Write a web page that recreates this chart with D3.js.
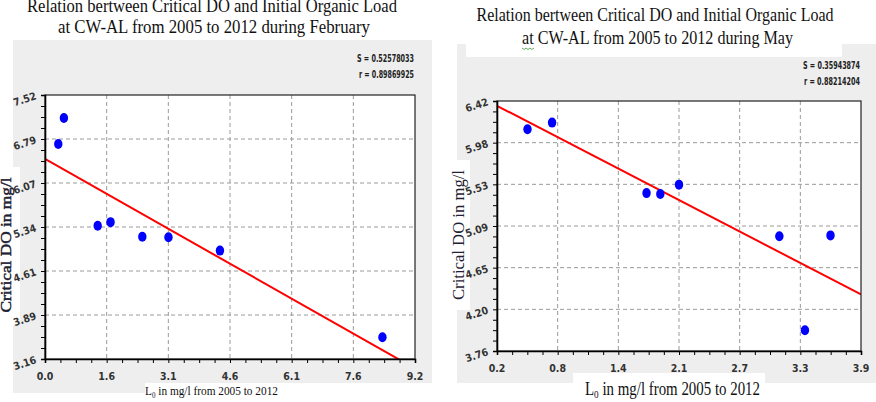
<!DOCTYPE html>
<html>
<head>
<meta charset="utf-8">
<script src="https://cdn.jsdelivr.net/npm/d3@7"></script>
<style>
  html, body { margin: 0; padding: 0; background: #fff; }
  svg { display: block; }
  .serif { font-family: "Liberation Serif", "Times New Roman", serif; fill: #111; }
  .narrow { font-family: "Liberation Sans Narrow", "DejaVu Sans Condensed", "Arial Narrow", sans-serif; font-weight: bold; fill: #333; }
</style>
</head>
<body>
<svg id="chart" width="876" height="402"></svg>
<script>
// February panel data
const febL0 = [0.33, 0.47, 1.31, 1.63, 2.42, 3.07, 4.35, 8.39];
const febDO = [6.71, 7.14, 5.36, 5.42, 5.18, 5.17, 4.95, 3.52];
const febXDomain = [0, 9.2];
const febYDomain = [3.16, 7.52];
const febXTicks = ["0.0", "1.6", "3.1", "4.6", "6.1", "7.6", "9.2"];
const febYTicks = ["3.16", "3.89", "4.61", "5.34", "6.07", "6.79", "7.52"];
const febStats = ["S = 0.52578033", "r = 0.89869925"];
const febTitle = ["Relation bertween Critical DO and Initial Organic Load", "at CW-AL from 2005 to 2012 during February"];

// May panel data
const mayL0 = [0.51, 0.76, 1.72, 1.86, 2.05, 3.07, 3.59, 3.33];
const mayDO = [6.12, 6.19, 5.44, 5.43, 5.53, 4.98, 4.99, 3.98];
const mayXDomain = [0.2, 3.9];
const mayYDomain = [3.76, 6.42];
const mayXTicks = ["0.2", "0.8", "1.4", "2.1", "2.7", "3.3", "3.9"];
const mayYTicks = ["3.76", "4.20", "4.65", "5.09", "5.53", "5.98", "6.42"];
const mayStats = ["S = 0.35943874", "r = 0.88214204"];
const mayTitle = ["Relation bertween Critical DO and Initial Organic Load", "at CW-AL from 2005 to 2012 during May"];

const yLabel = "Critical DO  in  mg/l";

const svg = d3.select("#chart");

function fit(xs, ys) {
    const mx = d3.mean(xs), my = d3.mean(ys);
    let sxy = 0, sxx = 0;
    xs.forEach((x, i) => { sxy += (x - mx) * (ys[i] - my); sxx += (x - mx) * (x - mx); });
    const slope = sxy / sxx;
    return x => my + slope * (x - mx);
}

function drawPanel(cfg, idx) {
    const g = svg.append("g");

    // grey panel background
    g.append("rect").attr("x", cfg.bg[0]).attr("y", cfg.bg[1])
        .attr("width", cfg.bg[2]).attr("height", cfg.bg[3]).attr("fill", "#eeeeee");
    cfg.whiteBoxes.forEach(b => {
        g.append("rect").attr("x", b[0]).attr("y", b[1]).attr("width", b[2]).attr("height", b[3]).attr("fill", "#fff");
    });
    cfg.greyBoxes.forEach(b => {
        g.append("rect").attr("x", b[0]).attr("y", b[1]).attr("width", b[2]).attr("height", b[3]).attr("fill", "#eeeeee");
    });

    const p = cfg.plot;
    const x = d3.scaleLinear().domain(cfg.xDomain).range([p.l, p.r]);
    const y = d3.scaleLinear().domain(cfg.yDomain).range([p.b, p.t]);

    const xMajor = d3.range(7).map(i => cfg.xDomain[0] + i * (cfg.xDomain[1] - cfg.xDomain[0]) / 6);
    const yMajor = d3.range(7).map(i => cfg.yDomain[0] + i * (cfg.yDomain[1] - cfg.yDomain[0]) / 6);
    const xMinor = d3.range(25).map(i => cfg.xDomain[0] + i * (cfg.xDomain[1] - cfg.xDomain[0]) / 24);
    const yMinor = d3.range(25).map(i => cfg.yDomain[0] + i * (cfg.yDomain[1] - cfg.yDomain[0]) / 24);

    g.append("rect").attr("x", p.l).attr("y", p.t).attr("width", p.r - p.l).attr("height", p.b - p.t)
        .attr("fill", "#fff");

    // dashed grid
    g.append("g").selectAll("line").data(xMajor.slice(1, -1)).join("line")
        .attr("x1", d => x(d)).attr("x2", d => x(d)).attr("y1", p.t).attr("y2", p.b)
        .attr("stroke", "#9a9a9a").attr("stroke-dasharray", "4,3");
    g.append("g").selectAll("line").data(yMajor.slice(1, -1)).join("line")
        .attr("y1", d => y(d)).attr("y2", d => y(d)).attr("x1", p.l).attr("x2", p.r)
        .attr("stroke", "#9a9a9a").attr("stroke-dasharray", "4,3");

    // regression line clipped to plot
    const clipId = "clip" + idx;
    g.append("clipPath").attr("id", clipId).append("rect")
        .attr("x", p.l).attr("y", p.t).attr("width", p.r - p.l).attr("height", p.b - p.t);
    const f = fit(cfg.xs, cfg.ys);
    g.append("path").attr("clip-path", `url(#${clipId})`)
        .datum(cfg.xDomain)
        .attr("d", d3.line().x(d => x(d)).y(d => y(f(d))))
        .attr("stroke", "#ff0000").attr("stroke-width", 2).attr("fill", "none");

    // points
    g.append("g").selectAll("ellipse").data(cfg.xs.map((v, i) => [v, cfg.ys[i]])).join("ellipse")
        .attr("cx", d => x(d[0])).attr("cy", d => y(d[1]))
        .attr("rx", 4.2).attr("ry", 5).attr("fill", "#0000ff");

    // frame
    g.append("rect").attr("x", p.l).attr("y", p.t).attr("width", p.r - p.l).attr("height", p.b - p.t)
        .attr("fill", "none").attr("stroke", "#222").attr("stroke-width", 1.2);

    // axes
    const xAxis = g.append("g").attr("transform", `translate(0,${p.b})`)
        .call(d3.axisBottom(x).tickValues(xMinor).tickSize(4).tickFormat(""));
    xAxis.select(".domain").attr("stroke-width", 1.6);
    const yAxis = g.append("g").attr("transform", `translate(${p.l},0)`)
        .call(d3.axisLeft(y).tickValues(yMinor).tickSize(4).tickFormat(""));
    yAxis.select(".domain").attr("stroke-width", 1.6);

    g.append("g").selectAll("text").data(xMajor).join("text")
        .attr("class", "narrow").attr("font-size", 10.5)
        .attr("x", d => x(d)).attr("y", p.b + 21).attr("text-anchor", "middle")
        .text((d, i) => cfg.xTicks[i]);
    g.append("g").selectAll("text").data(yMajor).join("text")
        .attr("class", "narrow").attr("font-size", 10.5).attr("text-anchor", "end")
        .attr("transform", d => `translate(${p.l - 8},${y(d) + 4}) rotate(-18)`)
        .text((d, i) => cfg.yTicks[i]);

    // stats
    cfg.stats.forEach((s, i) => {
        g.append("text").attr("class", "narrow").attr("font-size", 10).style("fill", "#222")
            .attr("x", cfg.statsX - cfg.statsW[i]).attr("y", cfg.statsY[i])
            .attr("textLength", cfg.statsW[i]).attr("lengthAdjust", "spacingAndGlyphs")
            .text(s);
    });

    // title
    cfg.title.forEach((t, i) => {
        const tt = g.append("text").attr("class", "serif").attr("font-size", cfg.titleSize)
            .attr("x", cfg.titleX[i] - cfg.titleW[i] / 2).attr("y", cfg.titleY[i])
            .attr("textLength", cfg.titleW[i]).attr("lengthAdjust", "spacingAndGlyphs")
            .text(t);
        if (cfg.squiggle && i === 1) {
            const a = tt.node().getStartPositionOfChar(0);
            const b = tt.node().getEndPositionOfChar(1);
            const pts = d3.range(0, Math.ceil((b.x - a.x) / 2) + 1).map(k => [a.x + k * 2, a.y + 4 + (k % 2 ? 1.5 : 0)]);
            g.append("path").datum(pts).attr("d", d3.line()).attr("stroke", "#3a9a3a")
                .attr("stroke-width", 0.8).attr("fill", "none");
        }
    });

    // y label
    g.append("text").attr("class", "serif").attr("font-size", cfg.yLabelSize)
        .style("fill", "#1e2233").attr("stroke", "#1e2233").attr("stroke-width", cfg.yLabelStroke)
        .attr("transform", `translate(${cfg.yLabelPos[0]},${cfg.yLabelPos[1]}) rotate(-90)`)
        .attr("x", -cfg.yLabelW / 2).attr("textLength", cfg.yLabelW).attr("lengthAdjust", "spacingAndGlyphs")
        .text(yLabel);

    // x label with subscript
    const xl = g.append("text").attr("class", "serif").attr("font-size", cfg.xLabelSize)
        .attr("x", cfg.xLabelPos[0] - cfg.xLabelW / 2).attr("y", cfg.xLabelPos[1])
        .attr("textLength", cfg.xLabelW).attr("lengthAdjust", "spacingAndGlyphs");
    xl.append("tspan").text("L");
    xl.append("tspan").attr("font-size", cfg.xLabelSize * 0.62).attr("dy", 3).text("0");
    xl.append("tspan").attr("dy", -3).text(" in mg/l from 2005 to 2012");
}

drawPanel({
    xs: febL0, ys: febDO, xDomain: febXDomain, yDomain: febYDomain,
    xTicks: febXTicks, yTicks: febYTicks, stats: febStats, title: febTitle,
    bg: [13, 40, 419, 343],
    whiteBoxes: [[0, 167, 20, 158], [145, 383, 287, 19]],
    greyBoxes: [[13, 383, 132, 10]],
    plot: { l: 45, t: 95, r: 415, b: 359 },
    statsX: 414, statsY: [62, 78], statsW: [57, 55],
    titleSize: 18, titleX: [212, 214], titleY: [12, 33], titleW: [370, 312],
    yLabelSize: 14.5, yLabelPos: [11, 245], yLabelW: 135, yLabelStroke: 0.45,
    xLabelSize: 13, xLabelPos: [211.5, 395], xLabelW: 133,
    squiggle: false
}, 0);

drawPanel({
    xs: mayL0, ys: mayDO, xDomain: mayXDomain, yDomain: mayYDomain,
    xTicks: mayXTicks, yTicks: mayYTicks, stats: mayStats, title: mayTitle,
    bg: [457, 44, 419, 339],
    whiteBoxes: [[466, 0, 376, 57], [440, 160, 30, 150], [573, 373, 192, 29]],
    greyBoxes: [],
    plot: { l: 497, t: 101, r: 861, b: 351 },
    statsX: 860, statsY: [69, 85], statsW: [57, 56],
    titleSize: 18.5, titleX: [655, 657.5], titleY: [20.5, 44], titleW: [357, 271],
    yLabelSize: 17, yLabelPos: [464, 235], yLabelW: 130, yLabelStroke: 0,
    xLabelSize: 18, xLabelPos: [672.5, 395], xLabelW: 175,
    squiggle: true
}, 1);
</script>
</body>
</html>
